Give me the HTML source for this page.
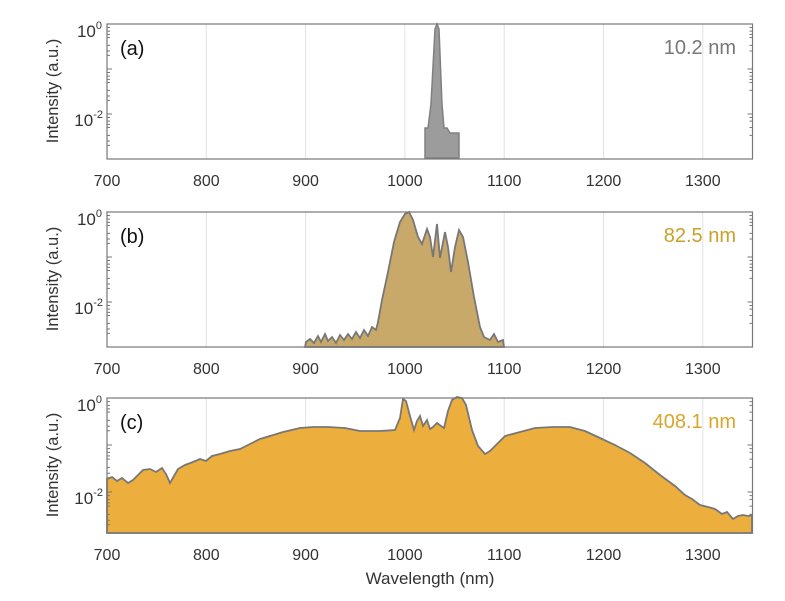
<!DOCTYPE html>
<html><head><meta charset="utf-8"><style>
body{margin:0;background:#fff;}
svg{display:block;font-family:"Liberation Sans",sans-serif;}
</style></head><body>
<svg width="785" height="601" viewBox="0 0 785 601" xmlns="http://www.w3.org/2000/svg">
<defs>
<g id="grid">
<g stroke="#e2e2e2" stroke-width="1">
<line x1="206.3" y1="0" x2="206.3" y2="135"/><line x1="305.6" y1="0" x2="305.6" y2="135"/>
<line x1="404.9" y1="0" x2="404.9" y2="135"/><line x1="504.2" y1="0" x2="504.2" y2="135"/>
<line x1="603.5" y1="0" x2="603.5" y2="135"/><line x1="702.8" y1="0" x2="702.8" y2="135"/>
</g>
</g>
<g id="frame">
<rect x="107" y="0" width="645.5" height="135" fill="none" stroke="#777" stroke-width="1.2"/>
<g font-size="16" fill="#333" text-anchor="middle">
<text x="107" y="162">700</text><text x="206.3" y="162">800</text><text x="305.6" y="162">900</text>
<text x="404.9" y="162">1000</text><text x="504.2" y="162">1100</text><text x="603.5" y="162">1200</text><text x="702.8" y="162">1300</text>
</g>
<text transform="translate(58,67) rotate(-90)" font-size="16.5" fill="#333" text-anchor="middle">Intensity (a.u.)</text>
</g>
<g id="yt45">
<g stroke="#777" stroke-width="1">
<path d="M107,0h5M107,45h5M107,90h5M752.5,0h-5M752.5,45h-5M752.5,90h-5"/>
<path d="M107,3.5h3M107,7.1h3M107,10.4h3M107,13.5h3M107,21.4h3M107,27h3M107,31.4h3M107,48.5h3M107,52.1h3M107,55.4h3M107,58.5h3M107,66.4h3M107,72h3M107,76.4h3M107,93.5h3M107,97.1h3M107,100.4h3M107,103.5h3M107,111.4h3M107,117h3M107,121.4h3"/>
<path d="M752.5,3.5h-3M752.5,7.1h-3M752.5,10.4h-3M752.5,13.5h-3M752.5,21.4h-3M752.5,27h-3M752.5,48.5h-3M752.5,52.1h-3M752.5,55.4h-3M752.5,58.5h-3M752.5,66.4h-3M752.5,93.5h-3M752.5,97.1h-3M752.5,103.5h-3M752.5,111.4h-3"/>
</g>
<g font-size="17" fill="#333" text-anchor="end">
<text x="102" y="13">10<tspan dy="-8" font-size="11">0</tspan></text>
<text x="103" y="102">10<tspan dy="-8" font-size="11">-2</tspan></text>
</g>
</g>
<g id="yt47">
<g stroke="#777" stroke-width="1">
<path d="M107,0h5M107,47h5M107,94h5M752.5,0h-5M752.5,47h-5M752.5,94h-5"/>
<path d="M107,3.6h3M107,7.4h3M107,10.9h3M107,14.1h3M107,22.4h3M107,28.2h3M107,32.8h3M107,50.6h3M107,54.4h3M107,57.9h3M107,61.1h3M107,69.4h3M107,75.2h3M107,79.8h3M107,97.6h3M107,101.4h3M107,104.9h3M107,108.1h3M107,116.4h3M107,122.2h3M107,126.8h3"/>
<path d="M752.5,3.6h-3M752.5,7.4h-3M752.5,14.1h-3M752.5,22.4h-3M752.5,50.6h-3M752.5,54.4h-3M752.5,61.1h-3M752.5,69.4h-3M752.5,97.6h-3M752.5,101.4h-3M752.5,108.1h-3M752.5,116.4h-3"/>
</g>
<g font-size="17" fill="#333" text-anchor="end">
<text x="102" y="13">10<tspan dy="-8" font-size="11">0</tspan></text>
<text x="103" y="106">10<tspan dy="-8" font-size="11">-2</tspan></text>
</g>
</g>
</defs>

<!-- panel a -->
<g transform="translate(0,24)">
<use href="#grid"/>
<path d="M425,134 L425,104 L428,104 L431,80 L435,5 L437,0 L439,5 L442,80 L444,104 L447,104 L450,109 L459,109 L459,134 Z" fill="#9c9c9c" stroke="#808080" stroke-width="1.5"/>
<use href="#frame"/><use href="#yt45"/>
<text x="120" y="31" font-size="20" fill="#111">(a)</text>
<text x="736" y="30" font-size="20" fill="#777" text-anchor="end">10.2 nm</text>
</g>

<!-- panel b -->
<g transform="translate(0,212)">
<use href="#grid"/>
<path d="M305,135 L306,130 L310,127 L314,131 L318,124 L321,130 L325,122 L328,129 L332,125 L336,131 L340,123 L344,128 L348,122 L352,127 L356,120 L360,126 L364,118 L368,124 L372,115 L376,118 L378,110 L382,88 L388,60 L394,30 L400,10 L405,2 L409,0 L413,8 L418,25 L422,32 L427,17 L430,25 L433,45 L437,12 L440,46 L445,20 L448,35 L451,60 L455,35 L459,18 L463,25 L468,50 L474,85 L480,115 L484,125 L490,128 L494,122 L498,130 L503,128 L504,135 Z" fill="#c8a96a" stroke="#777" stroke-width="1.8"/>
<use href="#frame"/><use href="#yt45"/>
<text x="120" y="31" font-size="20" fill="#111">(b)</text>
<text x="736" y="30" font-size="20" fill="#c9a02a" text-anchor="end">82.5 nm</text>
</g>

<!-- panel c -->
<g transform="translate(0,398)">
<use href="#grid"/>
<path d="M107,135 L107,81 L112,79 L117,83 L122,80 L128,85 L133,82 L138,77 L143,72 L150,71 L156,74 L162,70 L166,76 L170,85 L174,78 L178,71 L185,67 L193,64 L200,61 L206,63 L212,58 L220,56 L230,53 L240,51 L250,46 L260,41 L270,38 L283,34 L300,30 L313,29 L328,29 L345,30 L360,33 L380,33 L395,32 L400,20 L403,1 L406,3 L410,18 L414,32 L417,23 L420,18 L423,28 L427,22 L430,31 L433,29 L437,25 L441,28 L444,30 L448,13 L452,2 L457,-1 L462,0 L466,7 L472,32 L478,48 L485,56 L490,53 L497,46 L505,38 L520,34 L535,30 L553,29 L570,29 L585,33 L600,40 L615,47 L630,55 L645,65 L660,77 L675,88 L685,97 L692,101 L700,107 L708,109 L715,111 L722,116 L727,114 L733,121 L738,118 L743,117 L748,118 L752,117 L752,135 Z" fill="#ecae3c" stroke="#777" stroke-width="1.8"/>
<use href="#frame"/><use href="#yt47"/>
<text x="120" y="31" font-size="20" fill="#111">(c)</text>
<text x="736" y="30" font-size="20" fill="#d9a52a" text-anchor="end">408.1 nm</text>
</g>

<text x="430" y="584" font-size="17" fill="#333" text-anchor="middle">Wavelength (nm)</text>
</svg>
</body></html>
